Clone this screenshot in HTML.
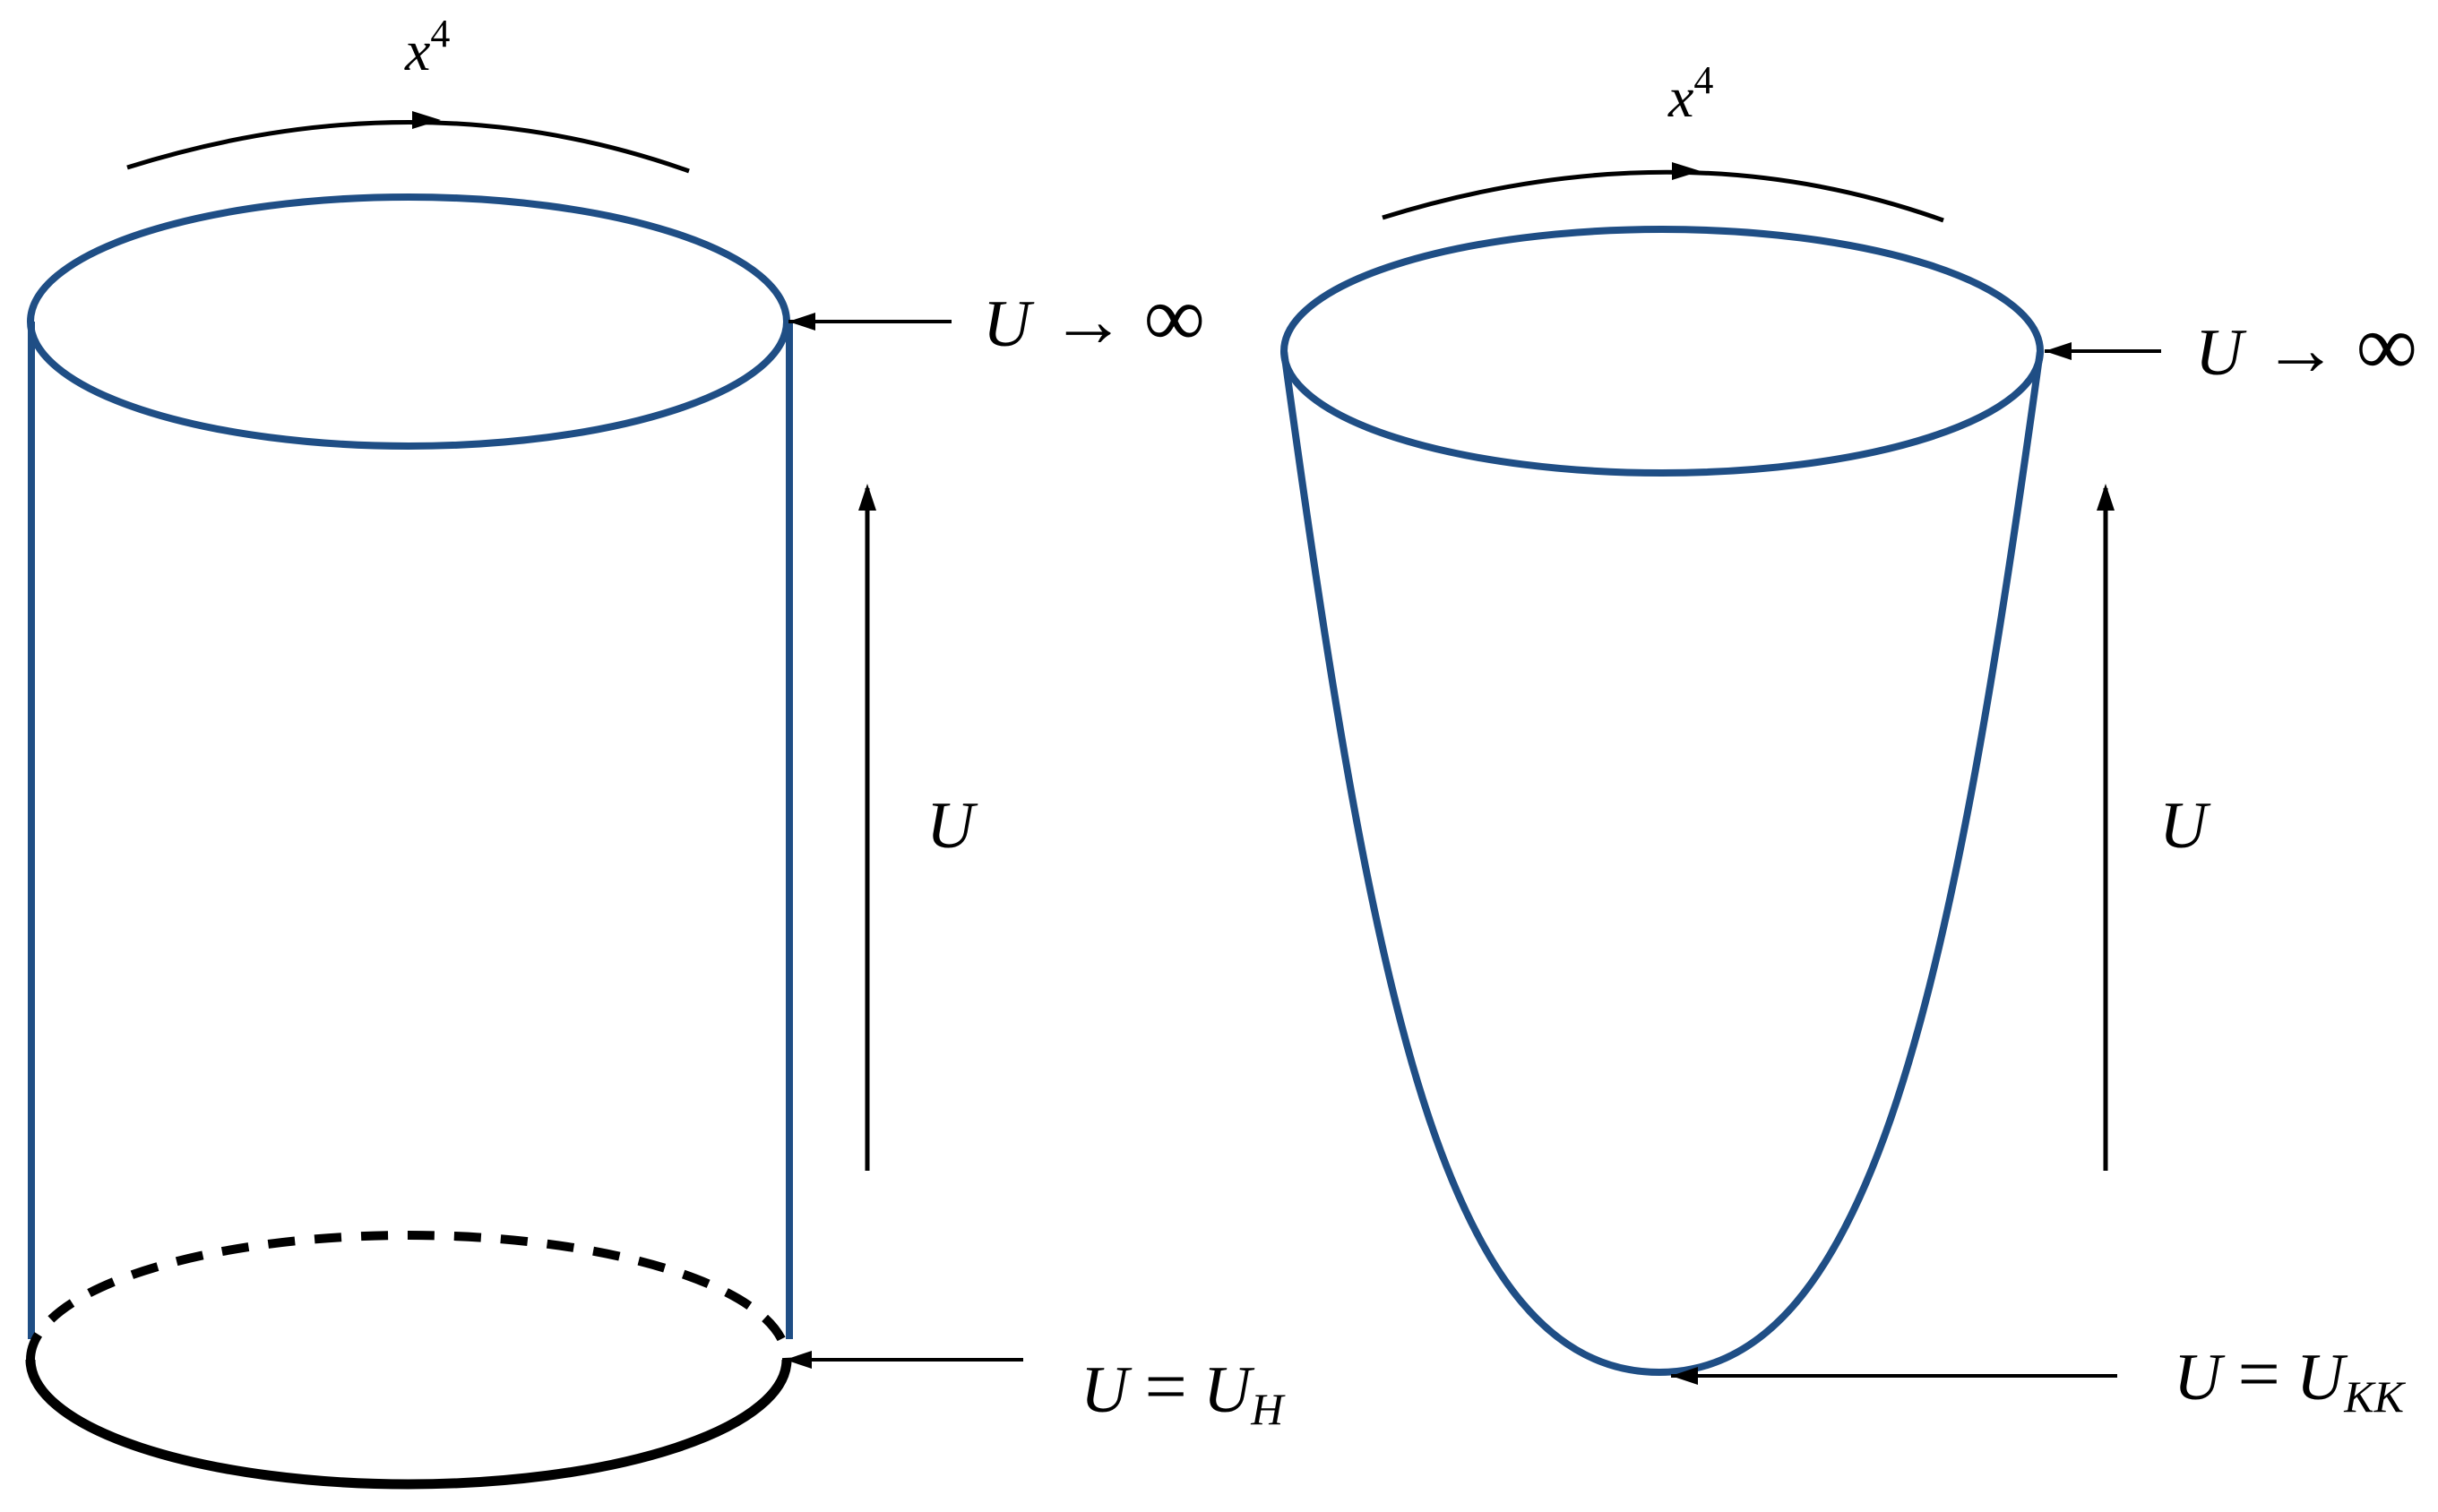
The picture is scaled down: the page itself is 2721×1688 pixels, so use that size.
<!DOCTYPE html>
<html><head><meta charset="utf-8"><style>
html,body{margin:0;padding:0;background:#fff;}
svg{display:block;}
text{font-family:"Liberation Serif",serif;font-style:italic;fill:#000;}
</style></head><body>
<svg width="2721" height="1688" viewBox="0 0 2721 1688" xmlns="http://www.w3.org/2000/svg">
<g fill="none" stroke-linecap="butt">
<!-- Left cylinder -->
<ellipse cx="456" cy="359" rx="422" ry="139" stroke="#1f4e85" stroke-width="8"/>
<line x1="35" y1="359" x2="35" y2="1495" stroke="#1f4e85" stroke-width="8"/>
<line x1="881" y1="359" x2="881" y2="1495" stroke="#1f4e85" stroke-width="8"/>
<path d="M34,1518 A422,139 0 0 1 878,1518" stroke="#000" stroke-width="10" stroke-dasharray="30,22"/>
<path d="M34,1518 A422,139 0 0 0 878,1518" stroke="#000" stroke-width="11"/>
<path d="M142,187 Q469,84 769,191" stroke="#000" stroke-width="5"/>
<path d="M460,124 L492,134 L460,144 z" fill="#000"/>
<line x1="1062" y1="359" x2="880" y2="359" stroke="#000" stroke-width="4"/>
<path d="M880,359 L910,349 L910,369 z" fill="#000"/>
<line x1="968" y1="1307" x2="968" y2="545" stroke="#000" stroke-width="5"/>
<path d="M968,540 L958,570 L978,570 z" fill="#000"/>
<line x1="1142" y1="1518" x2="876" y2="1518" stroke="#000" stroke-width="4"/>
<path d="M876,1518 L906,1508 L906,1528 z" fill="#000"/>
<!-- Right bowl -->
<ellipse cx="1855" cy="392" rx="422" ry="136" stroke="#1f4e85" stroke-width="8"/>
<path d="M1433,392 C1530,1100 1610,1532 1852,1532 C2090,1532 2180,1100 2277,392" stroke="#1f4e85" stroke-width="8"/>
<path d="M1543,243 Q1874,140 2169,246" stroke="#000" stroke-width="5"/>
<path d="M1866,181 L1898,191 L1866,201 z" fill="#000"/>
<line x1="2412" y1="392" x2="2282" y2="392" stroke="#000" stroke-width="4"/>
<path d="M2282,392 L2312,382 L2312,402 z" fill="#000"/>
<line x1="2350" y1="1307" x2="2350" y2="545" stroke="#000" stroke-width="5"/>
<path d="M2350,540 L2340,570 L2360,570 z" fill="#000"/>
<line x1="2363" y1="1536" x2="1865" y2="1536" stroke="#000" stroke-width="4"/>
<path d="M1865,1536 L1895,1526 L1895,1546 z" fill="#000"/>
</g>
<text x="452" y="78" font-size="64">x<tspan font-style="normal" font-size="44" dy="-26">4</tspan></text>
<text x="1862" y="130" font-size="64">x<tspan font-style="normal" font-size="44" dy="-26">4</tspan></text>
<text x="1097" y="386" font-size="74">U<tspan font-style="normal" font-size="84" dx="22">→</tspan><tspan font-style="normal" font-size="96" dx="20">∞</tspan></text>
<text x="2450" y="418" font-size="74">U<tspan font-style="normal" font-size="84" dx="22">→</tspan><tspan font-style="normal" font-size="96" dx="20">∞</tspan></text>
<text x="1034" y="946" font-size="74">U</text>
<text x="2410" y="946" font-size="74">U</text>
<text x="1206" y="1576" font-size="74">U<tspan font-style="normal" font-size="84" dx="18">=</tspan><tspan dx="18">U</tspan><tspan font-size="50" dy="14">H</tspan></text>
<text x="2426" y="1562" font-size="74">U<tspan font-style="normal" font-size="84" dx="18">=</tspan><tspan dx="18">U</tspan><tspan font-size="50" dy="14">KK</tspan></text>
</svg>
</body></html>
